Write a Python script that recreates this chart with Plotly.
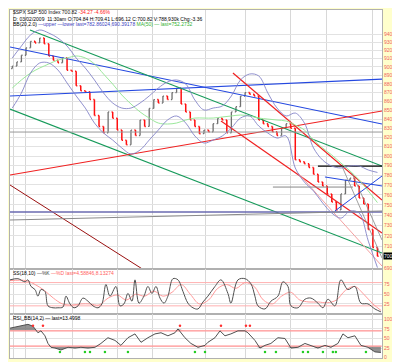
import numpy as np
import plotly.graph_objects as go

# ---------------- data ----------------
bar_days = list(np.arange(81) * 0.5 + 0.5)
first_open = 898
closes = [901, 906, 914, 923, 931, 929, 935, 928, 913, 908,
          905, 911, 896, 895, 878, 872, 871, 862, 844, 832,
          825, 848, 841, 828, 817, 812, 828, 822, 839, 832,
          852, 862, 858, 866, 862, 870, 875, 857, 848, 839,
          832, 824, 828, 826, 835, 841, 839, 825, 848, 854,
          866, 870, 868, 866, 839, 835, 832, 826, 822, 830,
          835, 830, 796, 794, 792, 788, 781, 773, 769, 761,
          753, 745, 761, 775, 777, 769, 757, 751, 726, 709, 700.82]

ind_days = list(np.arange(41) + 0.5)
bb_upper = [910.7, 925.2, 938.8, 945.0, 941.2, 935.0, 925.2, 910.7, 898.7, 884.6,
            869.5, 858.1, 852.4, 852.4, 858.1, 866.1, 875.3, 882.2, 884.6, 879.9,
            861.5, 850.2, 852.4, 854.7, 866.1, 884.6, 891.6, 889.3, 869.5, 852.4,
            843.5, 846.8, 835.7, 808.6, 795.8, 789.5, 787.5, 789.5, 789.5, 785.4, 782.86]
bb_lower = [852.4, 869.5, 892.8, 904.7, 904.7, 896.3, 881.1, 866.1, 852.4, 835.7,
            824.7, 817.1, 808.6, 802.2, 806.4, 817.1, 828.0, 839.0, 843.5, 835.7,
            821.5, 813.9, 817.1, 821.5, 830.2, 841.2, 843.5, 832.4, 824.7, 819.3,
            821.5, 787.5, 773.0, 763.9, 751.9, 742.0, 737.0, 744.0, 742.0, 715.0, 690.39]
ma50 = [875.3, 884.6, 892.8, 898.7, 903.5, 908.2, 910.7, 913.1, 910.7, 903.5,
        891.6, 879.9, 867.2, 857.0, 848.0, 841.2, 835.7, 834.6, 835.7, 839.0,
        841.2, 841.2, 841.2, 842.4, 843.5, 844.6, 843.5, 841.2, 840.1, 839.0,
        837.9, 833.5, 828.0, 817.1, 808.6, 801.1, 792.7, 784.4, 775.1, 763.9, 752.27]

# trend lines: (day0, price0, day1, price1)
trendlines = {
    "blueA": (0.25, 924.0, 41.0, 834.6),
    "blueB": (0.25, 866.1, 41.0, 885.7),
    "greenU": (2.44, 945.0, 41.0, 789.5),
    "greenL": (0.25, 851.3, 41.0, 703.8),
    "redRise": (0.25, 780.2, 41.0, 849.1),
    "darkRed": (0.25, 770.0, 14.92, 688.2),
    "red1": (24.67, 892.8, 41.0, 754.9),
    "red2": (23.36, 837.9, 41.0, 722.7),
    "pink": (31.79, 782.3, 41.0, 691.8),
    "black": (33.98, 789.5, 41.0, 789.5),
    "gray1": (0.25, 825.8, 41.0, 825.8),
    "gray2": (29.05, 767.9, 37.82, 767.9),
    "navy": (0.25, 743.0, 41.0, 743.0),
    "gray3": (0.25, 735.2, 41.0, 744.0),
    "blueS1": (35.84, 744.0, 41.0, 779.2),
    "blueS2": (34.75, 778.2, 41.0, 769.0),
    "fan1": (36.61, 789.5, 41.0, 699.2),
    "fan2": (37.70, 782.3, 41.0, 716.0),
}

stoch_days = [0.25, 1.12, 1.89, 2.22, 2.55, 2.99, 3.31, 3.64, 4.08, 4.41, 4.96, 5.5, 6.05, 6.38,
              6.82, 7.26, 7.7, 8.24, 8.79, 9.34, 9.89, 10.32, 10.76, 11.2, 11.86, 12.3, 12.73,
              13.17, 13.61, 13.94, 14.38, 14.92, 15.36, 15.8, 16.24, 16.68, 17.12, 17.55, 18.1,
              18.65, 19.2, 19.74, 20.29, 20.84, 21.39, 21.93, 22.7, 23.36, 24.12, 24.45, 25.22,
              25.99, 26.64, 27.08, 27.41, 28.18, 28.83, 29.6, 30.15, 30.7, 31.03, 31.79, 32.56,
              33.21, 33.98, 34.53, 35.08, 35.84, 36.5, 37.27, 38.03, 38.69, 39.46, 40.22, 40.88]
stoch_k = [87, 90, 82, 87, 70, 62, 45, 62, 57, 20, 15, 15, 17, 45,
           25, 15, 20, 40, 32, 20, 15, 25, 75, 45, 70, 20, 25,
           52, 32, 87, 27, 45, 70, 52, 70, 40, 27, 45, 90,
           87, 57, 27, 15, 12, 30, 45, 70, 87, 52, 27, 87,
           90, 77, 45, 20, 12, 32, 45, 82, 70, 20, 15, 37,
           40, 27, 15, 37, 20, 87, 62, 70, 27, 25, 12, 4.59]
stochd_days = [0.25, 2, 3, 4, 5, 6, 7, 8, 9, 10, 11, 12, 13, 14, 15, 16, 17, 18, 19, 20, 21,
               22, 23, 24, 25, 26, 27, 28, 29, 30, 31, 32, 33, 34, 35, 36, 37, 38, 39, 40, 40.9]
stoch_d = [85, 85, 75, 60, 40, 25, 22, 25, 25, 22, 40, 48, 35, 50, 45, 58, 45, 55, 75, 50, 25,
           35, 65, 75, 65, 80, 70, 35, 25, 45, 55, 35, 30, 30, 28, 35, 60, 70, 50, 25, 8.13]
stoch_levels = [20, 80]

rsi_days = [0.25, 1.12, 2.22, 2.77, 2.99, 3.31, 3.64, 4.08, 4.41, 4.74, 5.18, 5.83, 6.6, 7.37,
            8.02, 8.79, 9.56, 10.21, 10.98, 11.75, 12.4, 13.17, 13.94, 14.6, 15.36, 16.13,
            16.79, 17.55, 18.32, 18.65, 19.41, 20.07, 20.84, 21.61, 21.93, 22.7, 23.25, 23.8,
            24.45, 25.22, 25.99, 26.31, 27.08, 27.63, 28.18, 28.83, 29.6, 30.37, 31.03, 31.79,
            32.56, 33.21, 33.98, 34.75, 35.4, 36.17, 36.72, 37.27, 38.03, 38.69, 39.46, 40.22, 40.88]
rsi = [77, 82, 87, 82, 75, 65, 70, 57, 37, 27, 25, 20, 27, 25,
       27, 25, 27, 37, 52, 45, 32, 52, 62, 40, 52, 62,
       65, 57, 65, 75, 52, 37, 27, 32, 40, 52, 70, 57,
       62, 70, 70, 65, 45, 25, 32, 37, 52, 50, 25, 27,
       37, 32, 25, 32, 27, 37, 62, 52, 57, 32, 27, 15, 13.5]
rsi_levels = [30, 70]
rsi_buy_days = [5.72, 8.46, 9.01, 10.65, 13.17, 20.51, 21.61, 28.18, 29.38, 32.34, 32.89,
                34.53, 35.62, 35.95, 39.24]
rsi_sell_days = [2.77, 3.86, 18.87, 23.36, 26.1, 26.53]

tick_days = [0.6, 2.0, 7.15, 12.08, 15.9, 21.7, 26.1, 31.0, 34.97, 40.0]
tick_text = ["Dec", "5", "12", "20", "26", "Feb", "9", "17", "23", "Mar"]
price_ticks = [p for p in range(690, 950, 10) if p != 700]
last_price = 700.82

# ---------------- styles ----------------
line_styles = {
    "blueA": ("#2448E0", 1.2), "blueB": ("#2448E0", 1.2),
    "greenU": ("#169A5A", 1.2), "greenL": ("#169A5A", 1.2),
    "redRise": ("#F02020", 1.2), "darkRed": ("#9A1010", 1.0),
    "red1": ("#F02020", 1.2), "red2": ("#F02020", 1.2), "pink": ("#F4A0A0", 1.0),
    "black": ("#000000", 1.2), "gray1": ("#999999", 1.0), "gray2": ("#888888", 1.0),
    "navy": ("#6A6AB0", 1.4), "gray3": ("#8A8A8A", 1.2),
    "blueS1": ("#2448E0", 1.0), "blueS2": ("#2448E0", 1.0),
    "fan1": ("#888888", 0.8), "fan2": ("#888888", 0.8),
}
FONT = "Liberation Sans, Arial, sans-serif"
TOP, BOT = 2, 350           # plot area pixel rows
H = BOT - TOP

def dom(p_top, p_bot):
    return [(BOT - p_bot) / H, (BOT - p_top) / H]

fig = go.Figure()

for name, (d0, p0, d1, p1) in trendlines.items():
    col, w = line_styles[name]
    fig.add_trace(go.Scatter(x=[d0, d1], y=[p0, p1], mode="lines",
                             line=dict(color=col, width=w), xaxis="x", yaxis="y",
                             hoverinfo="skip", showlegend=False))

fig.add_trace(go.Scatter(x=ind_days, y=ma50, mode="lines", line=dict(color="#9BE89B", width=1),
                         xaxis="x", yaxis="y", showlegend=False, line_shape="spline"))
fig.add_trace(go.Scatter(x=ind_days, y=bb_upper, mode="lines", line=dict(color="#8484C8", width=0.9),
                         xaxis="x", yaxis="y", showlegend=False, line_shape="spline"))
fig.add_trace(go.Scatter(x=ind_days, y=bb_lower, mode="lines", line=dict(color="#8484C8", width=0.9),
                         xaxis="x", yaxis="y", showlegend=False, line_shape="spline"))

opens = [first_open] + closes[:-1]
highs = [max(o, c) for o, c in zip(opens, closes)]
lows = [min(o, c) for o, c in zip(opens, closes)]
fig.add_trace(go.Ohlc(x=bar_days, open=opens, high=highs, low=lows, close=closes,
                      increasing=dict(line=dict(color="#707070", width=1.3)),
                      decreasing=dict(line=dict(color="#FF1010", width=1.5)),
                      tickwidth=0.25, xaxis="x", yaxis="y", showlegend=False))

# stochastics
for lv in stoch_levels:
    fig.add_trace(go.Scatter(x=[0.25, 41.0], y=[lv, lv], mode="lines",
                             line=dict(color="#FFB0B0", width=1), xaxis="x2", yaxis="y2",
                             showlegend=False))
fig.add_trace(go.Scatter(x=stochd_days, y=stoch_d, mode="lines", line=dict(color="#FF9A9A", width=1),
                         line_shape="spline", xaxis="x2", yaxis="y2", showlegend=False))
fig.add_trace(go.Scatter(x=stoch_days, y=stoch_k, mode="lines", line=dict(color="#505050", width=1),
                         line_shape="spline", xaxis="x2", yaxis="y2", showlegend=False))

# RSI
rsi_arr = np.array(rsi, dtype=float)
fig.add_trace(go.Scatter(x=rsi_days, y=[rsi_levels[0]] * len(rsi_days), mode="lines",
                         line=dict(color="#FFA0A0", width=1), xaxis="x3", yaxis="y3", showlegend=False))
fig.add_trace(go.Scatter(x=rsi_days, y=np.minimum(rsi_arr, rsi_levels[0]), mode="lines",
                         line=dict(width=0), fill="tonexty", fillcolor="rgba(110,110,110,0.75)",
                         xaxis="x3", yaxis="y3", showlegend=False))
fig.add_trace(go.Scatter(x=rsi_days, y=[rsi_levels[1]] * len(rsi_days), mode="lines",
                         line=dict(color="#FFA0A0", width=1), xaxis="x3", yaxis="y3", showlegend=False))
fig.add_trace(go.Scatter(x=rsi_days, y=np.maximum(rsi_arr, rsi_levels[1]), mode="lines",
                         line=dict(width=0), fill="tonexty", fillcolor="rgba(110,110,110,0.75)",
                         xaxis="x3", yaxis="y3", showlegend=False))
for lv in rsi_levels:
    fig.add_trace(go.Scatter(x=[0.25, 41.0], y=[lv, lv], mode="lines",
                             line=dict(color="#FFA0A0", width=1), xaxis="x3", yaxis="y3", showlegend=False))
fig.add_trace(go.Scatter(x=rsi_days, y=rsi, mode="lines", line=dict(color="#505050", width=1),
                         xaxis="x3", yaxis="y3", showlegend=False))
fig.add_trace(go.Scatter(x=rsi_buy_days, y=[15] * len(rsi_buy_days), mode="markers",
                         marker=dict(color="#22CC22", size=2.5), xaxis="x3", yaxis="y3", showlegend=False))
fig.add_trace(go.Scatter(x=rsi_sell_days, y=[83] * len(rsi_sell_days), mode="markers",
                         marker=dict(color="#FF3030", size=2.5), xaxis="x3", yaxis="y3", showlegend=False))

xcommon = dict(range=[0.25, 41.0], tickvals=tick_days, showgrid=True, showticklabels=False,
               gridcolor="#D8D8D8", gridwidth=1, zeroline=False, showline=True, mirror=True,
               linecolor="#B0B0B0", linewidth=1, ticks="", fixedrange=True)
ycommon = dict(side="right", showgrid=True, gridcolor="#E2E2E2", zeroline=False, showline=True,
               mirror=True, linecolor="#B0B0B0", ticks="", tickfont=dict(size=5, color="#F06060", family=FONT))

fig.update_layout(
    width=400, height=362,
    margin=dict(l=2, r=26, t=TOP, b=362 - BOT),
    paper_bgcolor="#FFFFCC", plot_bgcolor="#FFFFFF",
    showlegend=False,
    xaxis=dict(**xcommon, anchor="y", domain=[0, 1], rangeslider=dict(visible=False)),
    xaxis2=dict(**xcommon, anchor="y2", domain=[0, 1], matches="x"),
    xaxis3=dict(**xcommon, anchor="y3", domain=[0, 1], matches="x"),
    yaxis=dict(**ycommon, anchor="x", domain=dom(TOP, 261), type="log",
               range=[np.log10(689.1), np.log10(970.3)], tickvals=price_ticks),
    yaxis2=dict(**ycommon, anchor="x2", domain=dom(261, 306), range=[-1, 115], tickvals=[25, 50, 75]),
    yaxis3=dict(**ycommon, anchor="x3", domain=dom(306, BOT), range=[-1, 114],
                tickvals=[0, 25, 50, 75, 100]),
)

def px_x(p):
    return (p - 2) / 372.0

def px_y(p):
    return (BOT - p) / H

ann = [
    (3, 4, "<span style='color:#101010'>$SPX S&amp;P 500 Index 700.82</span> "
           "<span style='color:#FF2020'>-34.27 -4.66%</span>"),
    (3, 10.5, "D: 03/02/2009  11:30am O:704.84 H:709.41 L:696.12 C:700.82 V:788,930k Chg:-3.36"),
    (3, 16.5, "BB(20,2.0) <span style='color:#4040C0'>—upper —lower last=782.86024,690.39178</span> "
              "<span style='color:#30B030'>MA(50) — last=752.2732</span>"),
    (3, 265, "SS(18,10) <span style='color:#404040'>—%K</span> "
             "<span style='color:#FF6060'>—%D last=4.58846,8.13274</span>"),
    (3, 310, "RSI_BB(14,2) — last=13.4998"),
]
annotations = []
for x, y, t in ann:
    annotations.append(dict(x=px_x(x), y=px_y(y), xref="paper", yref="paper", text=t,
                            showarrow=False, xanchor="left", yanchor="middle",
                            font=dict(size=5, color="#000000", family=FONT)))
for d, t in zip(tick_days, tick_text):
    annotations.append(dict(x=d, y=px_y(360), xref="x3", yref="paper", text=t,
                            showarrow=False, xanchor="center", yanchor="bottom", borderpad=0,
                            font=dict(size=5, color="#3050D0", family=FONT)))
annotations.append(dict(x=1.0, y=np.log10(last_price), xref="paper", yref="y", text="700.82",
                        showarrow=False, xanchor="left", yanchor="middle", bgcolor="#000000",
                        borderpad=0, xshift=1, font=dict(size=5, color="#FFFFFF", family=FONT)))
fig.update_layout(annotations=annotations)

fig.write_html("out.html")
